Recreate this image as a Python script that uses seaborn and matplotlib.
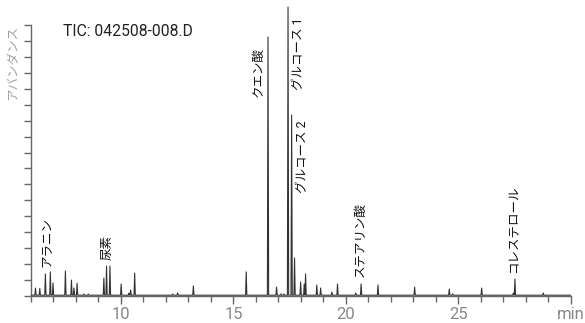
import matplotlib
matplotlib.use("Agg")
import matplotlib.pyplot as plt
import seaborn as sns
import pandas as pd
from matplotlib.ticker import MultipleLocator

# ---- data (retention time in min, abundance in arbitrary units) ----
peak_times = [6.20, 6.39, 6.64, 6.86, 6.98, 7.53, 7.80, 7.91, 8.05, 8.35, 8.55,
              9.24, 9.36, 9.51, 10.01, 10.35, 10.43, 10.61, 12.30, 12.52, 13.22,
              15.57, 16.54, 16.92, 17.12, 17.25, 17.43, 17.59, 17.72, 17.99, 18.15,
              18.21, 18.71, 18.88, 19.38, 19.63, 20.44, 20.68, 21.43, 23.06, 24.60,
              24.75, 26.04, 27.45, 27.52, 28.78]
peak_heights = [0.50, 0.48, 1.38, 1.51, 0.82, 1.57, 1.00, 0.50, 0.80, 0.12, 0.12,
                1.13, 1.88, 1.88, 0.75, 0.18, 0.38, 1.44, 0.12, 0.19, 0.63,
                1.51, 16.25, 0.56, 0.13, 0.13, 18.13, 11.36, 2.38, 0.88, 0.75,
                1.38, 0.69, 0.50, 0.25, 0.75, 0.19, 0.75, 0.69, 0.56, 0.44,
                0.13, 0.50, 0.19, 1.07, 0.19]

label_texts = ["アラニン", "尿素", "クエン酸", "グルコース 1", "グルコース 2",
               "ステアリン酸", "コレステロール"]
label_x = [6.72, 9.39, 16.12, 17.89, 18.07, 20.66, 27.48]
label_y = [1.82, 2.26, 12.48, 12.92, 6.46, 1.19, 1.44]

x_ticks = [10, 15, 20, 25, 30]
x_tick_labels = ["10", "15", "20", "25", "min"]
title_text = "TIC: 042508-008.D"
ylabel_text = "アバンダンス"

# ---- build trace polyline from peak list ----
base = 0.05
hw = 0.028
xs, ys = [6.0], [base]
for t, h in sorted(zip(peak_times, peak_heights)):
    xs += [t - hw, t, t + hw]
    ys += [base, h, base]
xs.append(30.0)
ys.append(base)
df = pd.DataFrame({"time": xs, "abundance": ys})

sns.set_style("white")
plt.rcParams["font.family"] = ["Roboto", "Noto Sans CJK JP", "DejaVu Sans"]

fig = plt.figure(figsize=(5.85, 3.23), dpi=100)
ax = fig.add_axes([31 / 585, 27 / 323, (570.7 - 31) / 585, (296 - 25) / 323])

sns.lineplot(data=df, x="time", y="abundance", sort=False, estimator=None,
             color="#333333", linewidth=0.8, ax=ax, clip_on=False)

ax.set_xlim(6, 30)
ax.set_ylim(0, 17)
ax.set_xlabel("")
ax.set_ylabel("")

for s in ["top", "right"]:
    ax.spines[s].set_visible(False)
for s in ["left", "bottom"]:
    ax.spines[s].set_color("#666666")
    ax.spines[s].set_linewidth(1.0)

ax.set_xticks(x_ticks)
ax.set_xticklabels(x_tick_labels)
ax.xaxis.set_minor_locator(MultipleLocator(1))
ax.set_yticks(range(0, 18))
ax.set_yticklabels([])
ax.tick_params(axis="x", which="major", direction="out", length=6, width=1,
               color="#666666", labelsize=12, labelcolor="#888888", pad=2, bottom=True)
ax.tick_params(axis="x", which="minor", direction="out", length=4, width=1,
               color="#666666", bottom=True)
ax.tick_params(axis="y", which="major", direction="out", length=5, width=1,
               color="#666666", left=True)

for txt, tx, ty in zip(label_texts, label_x, label_y):
    ax.text(tx, ty, txt, rotation=90, ha="center", va="bottom", fontsize=9,
            color="#111111", family=["Roboto", "Noto Sans CJK JP"])

fig.text(63 / 585, 1 - 32 / 323, title_text, ha="left", va="center",
         fontsize=11.3, color="#222222")
fig.text(13 / 585, 1 - 25 / 323, ylabel_text, rotation=90, ha="center", va="top",
         fontsize=9, color="#a0a0a0", family=["Noto Sans CJK JP"])

fig.savefig("out.png", dpi=100)
